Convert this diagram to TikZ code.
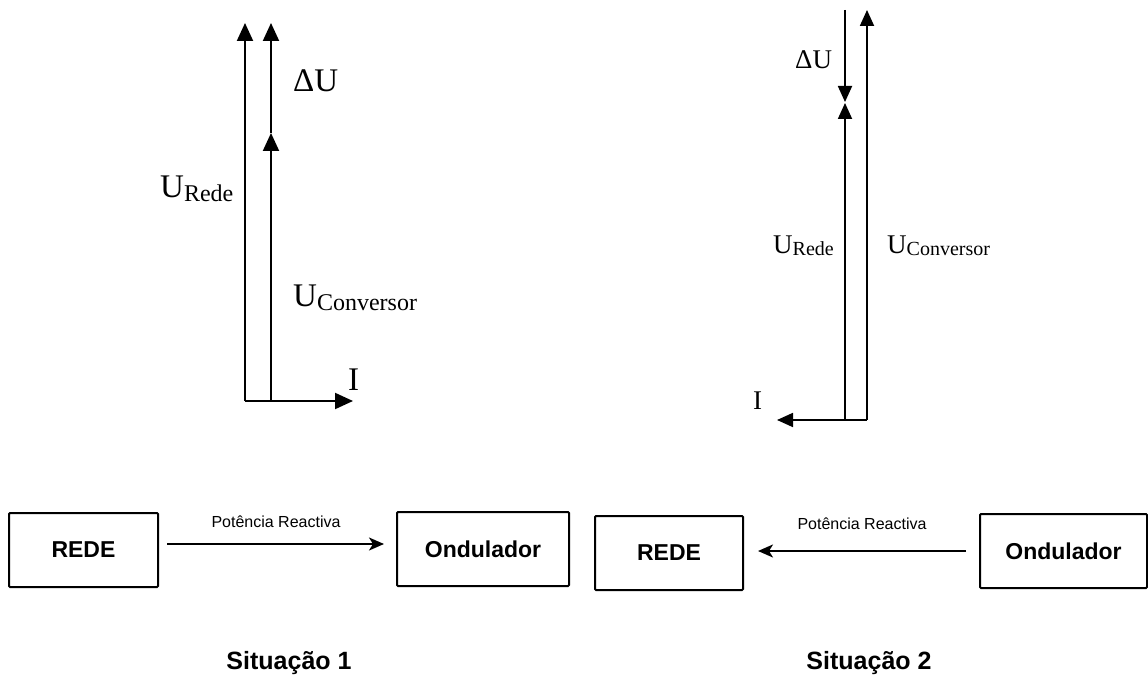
\documentclass[tikz,border=0pt]{standalone}
\usepackage{fontspec}
\setmainfont{Liberation Serif}
\newfontfamily\blocksans{Liberation Sans}
\usetikzlibrary{arrows.meta}

\tikzset{
  phasor/.style={line width=2pt, -{Triangle[length=18pt,width=16pt]}},
  phasorsmall/.style={line width=1.8pt, -{Triangle[length=16pt,width=14pt]}},
  axisline/.style={line width=2pt},
  biglabel/.style={font=\fontsize{33}{36}\selectfont, inner sep=0pt},
  smalllabel/.style={font=\fontsize{27}{30}\selectfont, inner sep=0pt},
  blockbox/.style={draw, line width=2pt, rounded corners=1pt, minimum width=#1, minimum height=74pt, inner sep=0pt,
    font=\blocksans\bfseries\fontsize{23}{26}\selectfont},
  flow/.style={line width=2pt, -{Stealth[length=15pt,width=13pt,inset=4pt]}},
  flowlabel/.style={font=\blocksans\fontsize{16}{19}\selectfont, inner sep=0pt},
  caption/.style={font=\blocksans\bfseries\fontsize{25}{28}\selectfont, inner sep=0pt},
}
% lowered subscript in plain text style
\newcommand{\vsub}[3]{\raisebox{-#2pt}{\fontsize{#1}{#1}\selectfont #3}}

\begin{document}
\begin{tikzpicture}[x=1pt, y=-1pt]
  \fill[white] (0,0) rectangle (1148,684);
  \useasboundingbox (0,0) rectangle (1148,684);

  % ---- Situation 1: phasor diagram ----
  \coordinate (a0) at (245,401);
  \coordinate (a1) at (271,401);
  \coordinate (aRt) at (245,23);
  \coordinate (aCt) at (271,133);
  \coordinate (aDt) at (271,23);
  \coordinate (aIt) at (353,401);
  \draw[axisline] (a0) -- (a1);
  \draw[phasor] (a0) -- (aRt);
  \draw[phasor] (a1) -- (aCt);
  \draw[phasor] (aCt) -- (aDt);
  \draw[phasor] (a1) -- (aIt);
  \node[biglabel, anchor=base west] (lRede1) at (160,198) {U\vsub{24}{4}{Rede}};
  \node[biglabel, anchor=base west] (lDU1) at (293,92) {ΔU};
  \node[biglabel, anchor=base west] (lConv1) at (293,307) {U\vsub{24}{4}{Conversor}};
  \node[biglabel, anchor=base west] (lI1) at (348,390) {I};

  % ---- Situation 2: phasor diagram ----
  \coordinate (b0) at (845,420);
  \coordinate (b1) at (867,420);
  \coordinate (bRt) at (845,103);
  \coordinate (bDs) at (845,10);
  \coordinate (bDt) at (845,102);
  \coordinate (bCt) at (867,10);
  \coordinate (bIt) at (777,420);
  \draw[axisline] (b0) -- (b1);
  \draw[phasorsmall] (b0) -- (bRt);
  \draw[phasorsmall] (bDs) -- (bDt);
  \draw[phasorsmall] (b1) -- (bCt);
  \draw[phasorsmall] (b0) -- (bIt);
  \node[smalllabel, anchor=base west] (lDU2) at (795,69) {ΔU};
  \node[smalllabel, anchor=base west] (lRede2) at (773,254) {U\vsub{20}{2}{Rede}};
  \node[smalllabel, anchor=base west] (lConv2) at (887,254) {U\vsub{20}{2}{Conversor}};
  \node[smalllabel, anchor=base west] (lI2) at (753,409) {I};

  % ---- Block diagrams ----
  \node[blockbox=149pt] (rede1) at (83.5,550) {REDE};
  \node[blockbox=172pt] (ond1) at (483,549) {Ondulador};
  \node[blockbox=148pt] (rede2) at (669,553) {REDE};
  \node[blockbox=167pt] (ond2) at (1063.5,551) {Ondulador};

  \draw[flow] ([xshift=8pt,yshift=6pt]rede1.east) -- ([xshift=-12pt,yshift=5pt]ond1.west);
  \draw[flow] ([xshift=-13pt]ond2.west) -- ([xshift=14pt,yshift=2pt]rede2.east);
  \node[flowlabel] (pr1) at (276,522) {Potência Reactiva};
  \node[flowlabel] (pr2) at (862,524) {Potência Reactiva};

  \node[caption] (sit1) at (289,663) {Situação 1};
  \node[caption] (sit2) at (869,663) {Situação 2};
\end{tikzpicture}
\end{document}
